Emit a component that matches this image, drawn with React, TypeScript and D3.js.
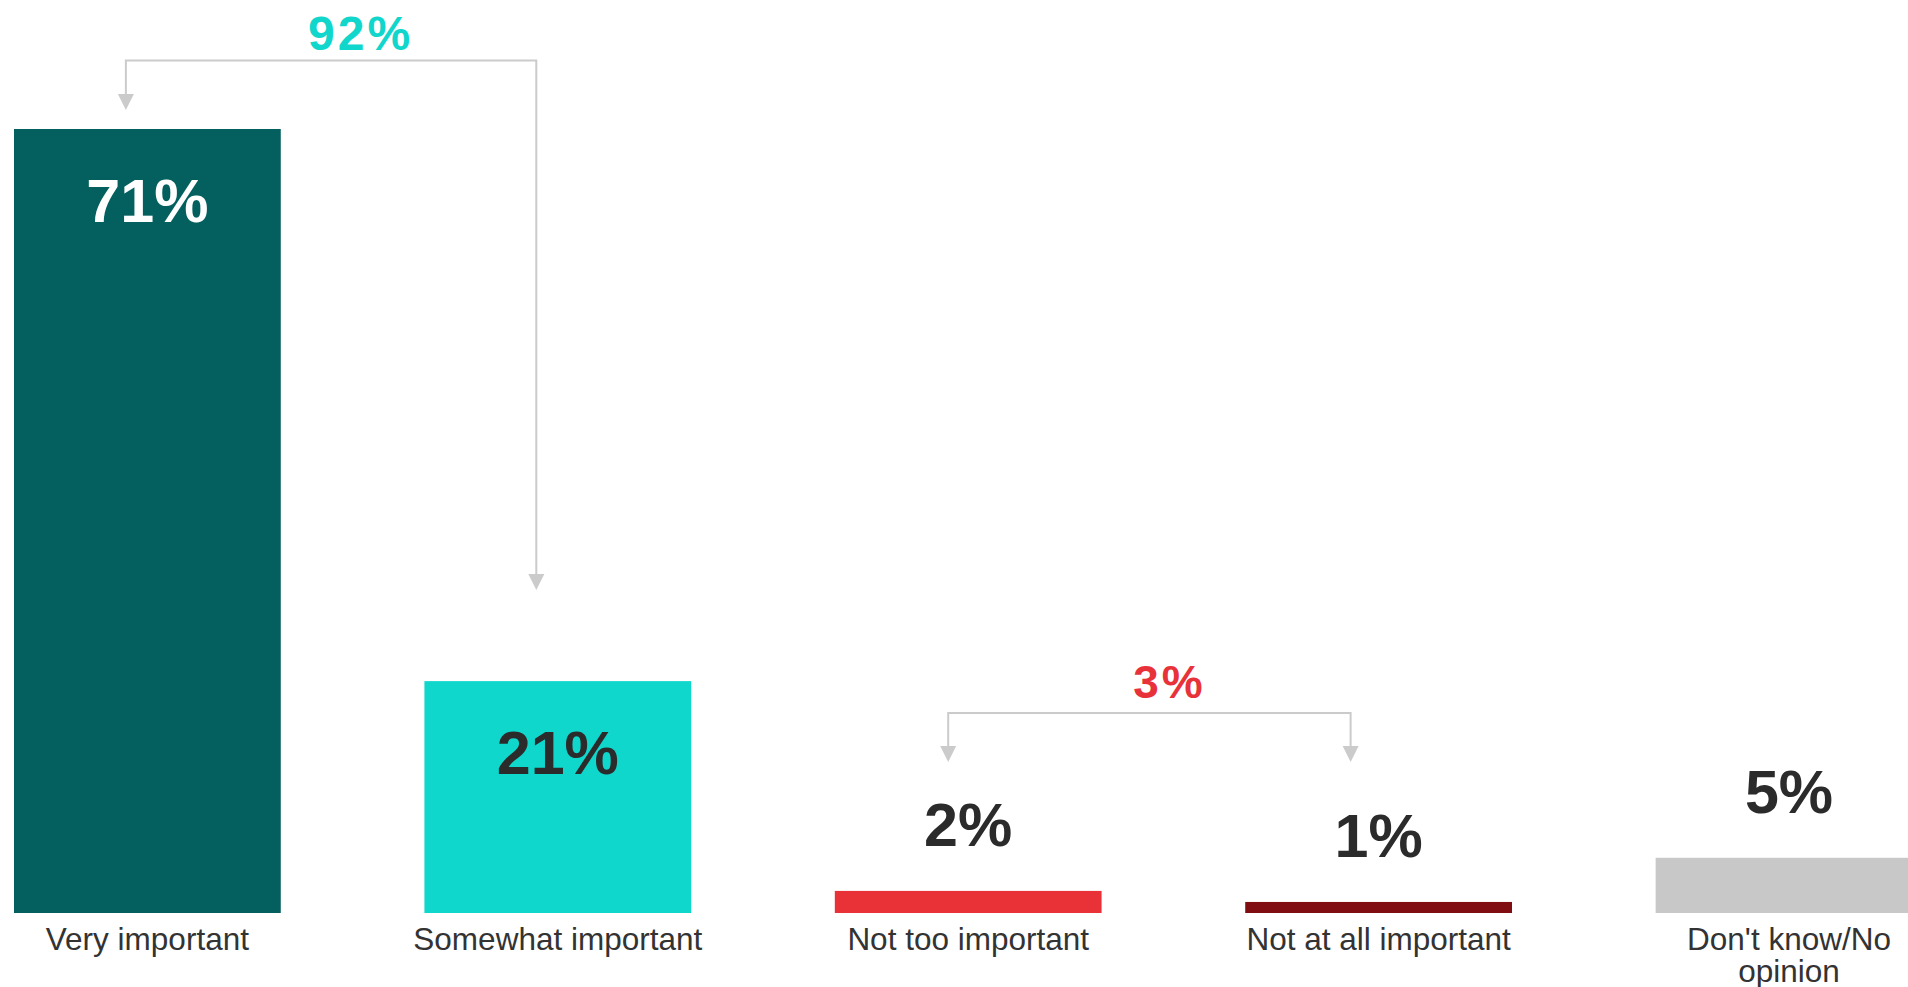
import * as d3 from "d3";
import React from "react";

const categories = [
  "Very important",
  "Somewhat important",
  "Not too important",
  "Not at all important",
  "Don't know/No opinion",
];
const values = [71, 21, 2, 1, 5];
const valueLabels = ["71%", "21%", "2%", "1%", "5%"];
const categoryLines = [
  ["Very important"],
  ["Somewhat important"],
  ["Not too important"],
  ["Not at all important"],
  ["Don't know/No", "opinion"],
];

// bracket annotations (net totals)
const netLabels = ["92%", "3%"];
const netFrom = [0, 2];
const netTo = [1, 3];

const BAR_COLORS = ["#03605e", "#0fd7cc", "#e83238", "#800d12", "#c8c8c8"];
const NET_COLORS = ["#10d6cc", "#e8323a"];
const LABEL_FILL = ["#ffffff", "#2b2b2b", "#2b2b2b", "#2b2b2b", "#2b2b2b"];
const TEXT = "#333333";
const ARROW = "#cbcbcb";
const FONT = "'Liberation Sans', Arial, Helvetica, sans-serif";

const WIDTH = 1908;
const HEIGHT = 987;

// bracket layout
const BRACKET = [
  { lineY: 60.5, tipY: [110, 590], dx: [-21.5, -21.5], textY: 50, textDx: 8, size: 48 },
  { lineY: 713, tipY: [762, 762], dx: [-20, -28], textY: 698, textDx: -4, size: 46 },
];

const App: React.FC = () => {
  const x = d3
    .scaleBand<string>()
    .domain(categories)
    .range([14, 1922.4])
    .paddingInner(0.35)
    .paddingOuter(0);

  const y = d3.scaleLinear().domain([0, 71]).range([913, 129]);

  const cx = (i: number) => x(categories[i])! + x.bandwidth() / 2;

  return (
    <div
      style={{
        position: "absolute",
        left: 0,
        top: 0,
        width: WIDTH,
        height: HEIGHT,
        overflow: "hidden",
        background: "#ffffff",
      }}
    >
      <svg width={WIDTH} height={HEIGHT} style={{ display: "block" }}>
        {/* Bars */}
        {categories.map((c, i) => (
          <rect
            key={c}
            x={x(c)}
            y={y(values[i])}
            width={x.bandwidth()}
            height={y(0) - y(values[i])}
            fill={BAR_COLORS[i]}
          />
        ))}

        {/* Value labels: inside tall bars, above short ones */}
        {categories.map((c, i) => {
          const inside = values[i] >= 10;
          return (
            <text
              key={`v-${c}`}
              x={cx(i)}
              y={inside ? y(values[i]) + 93 : y(values[i]) - 45}
              textAnchor="middle"
              fill={LABEL_FILL[i]}
              style={{ fontFamily: FONT, fontSize: 61, fontWeight: 700 }}
            >
              {valueLabels[i]}
            </text>
          );
        })}

        {/* Category labels */}
        {categories.map((c, i) => (
          <text
            key={`c-${c}`}
            x={cx(i)}
            y={950}
            textAnchor="middle"
            fill={TEXT}
            style={{ fontFamily: FONT, fontSize: 31.5 }}
          >
            {categoryLines[i].map((line, j) => (
              <tspan key={line} x={cx(i)} dy={j === 0 ? 0 : 32}>
                {line}
              </tspan>
            ))}
          </text>
        ))}

        {/* Net brackets */}
        {netLabels.map((label, k) => {
          const b = BRACKET[k];
          const x1 = cx(netFrom[k]) + b.dx[0];
          const x2 = cx(netTo[k]) + b.dx[1];
          const tri = (tx: number, ty: number) =>
            `M${tx - 8},${ty - 16}L${tx + 8},${ty - 16}L${tx},${ty}Z`;
          return (
            <g key={label}>
              <path
                d={`M${x1},${b.tipY[0] - 14}V${b.lineY}H${x2}V${b.tipY[1] - 14}`}
                fill="none"
                stroke={ARROW}
                strokeWidth={2}
              />
              <path d={tri(x1, b.tipY[0])} fill={ARROW} />
              <path d={tri(x2, b.tipY[1])} fill={ARROW} />
              <text
                x={(cx(netFrom[k]) + cx(netTo[k])) / 2 + b.textDx}
                y={b.textY}
                textAnchor="middle"
                fill={NET_COLORS[k]}
                style={{
                  fontFamily: FONT,
                  fontSize: b.size,
                  fontWeight: 700,
                  letterSpacing: 3,
                }}
              >
                {label}
              </text>
            </g>
          );
        })}
      </svg>
    </div>
  );
};

export default App;
